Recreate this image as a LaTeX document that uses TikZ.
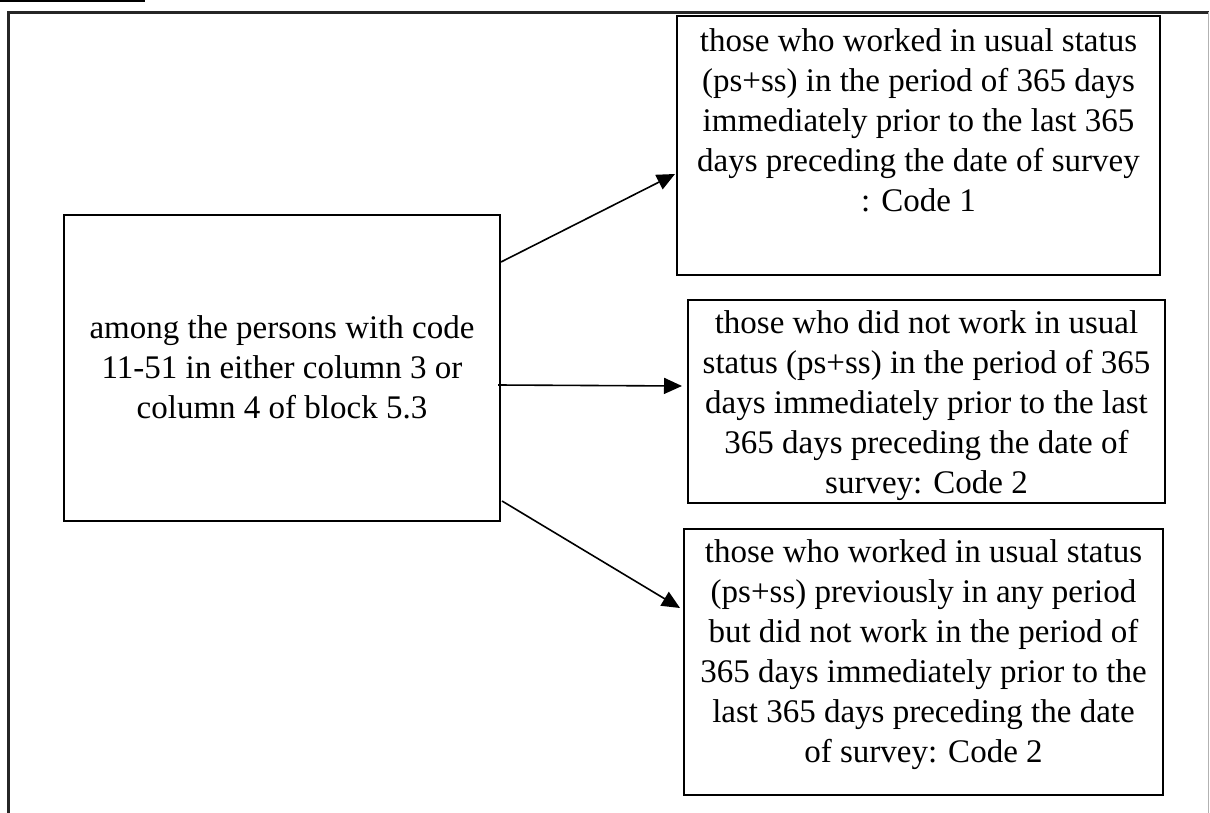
\documentclass[tikz,border=0pt]{standalone}
\usepackage{fontspec}
\setmainfont{Liberation Serif}
\usetikzlibrary{arrows.meta}
\begin{document}
\begin{tikzpicture}[x=0.5pt,y=-0.5pt,
  boxstyle/.style={draw=black,line width=1pt,inner sep=0pt},
  txt/.style={align=center,inner sep=0pt,font=\fontsize{16.5}{20}\selectfont},
  arr/.style={draw=black,line width=0.8pt,-{Triangle[length=9pt,width=8pt]}},
  frame/.style={line width=1.1pt}]
\useasboundingbox (0,0) rectangle (1210,813);
% top bar and outer frame
\fill[black] (0,0) rectangle (145,2.5);
\draw[frame,draw=black!85] (8.5,813) -- (8.5,12.5) -- (1208.5,12.5);
\draw[line width=0.7pt,draw=black!30] (1208.5,12.5) -- (1208.5,813);
% boxes
\node[boxstyle,minimum width=218pt,minimum height=153pt] (L) at (282,368) {};
\node[boxstyle,minimum width=241.5pt,minimum height=129.5pt] (B1) at (918.5,145.5) {};
\node[boxstyle,minimum width=238.5pt,minimum height=101.5pt] (B2) at (926.5,401.5) {};
\node[boxstyle,minimum width=239.5pt,minimum height=133pt] (B3) at (923.5,662) {};
% texts
\node[txt] (tL) at (282,367) {among the persons with code\\11-51 in either column 3 or\\column 4 of block 5.3};
\node[txt] (t1) at (918.5,120) {those who worked in usual status\\(ps+ss) in the period of 365 days\\immediately prior to the last 365\\days preceding the date of survey\\: Code 1};
\node[txt] (t2) at (926.5,406) {those who did not work in usual\\status (ps+ss) in the period of 365\\days immediately prior to the last\\365 days preceding the date of\\survey: Code 2};
\node[txt] (t3) at (923.5,655) {those who worked in usual status\\(ps+ss) previously in any period\\but did not work in the period of\\365 days immediately prior to the\\last 365 days preceding the date\\of survey: Code 2};
% connector end points
\coordinate (s1) at (L.north east |- 0,262);
\coordinate (e1) at (675,174);
\coordinate (s2) at (498,385);
\coordinate (e2) at (682,386);
\coordinate (s3) at (502,501);
\coordinate (e3) at (680,608);
\draw[arr] (s1) -- (e1);
\draw[arr] (s2) -- (e2);
\draw[arr] (s3) -- (e3);
\end{tikzpicture}
\end{document}
